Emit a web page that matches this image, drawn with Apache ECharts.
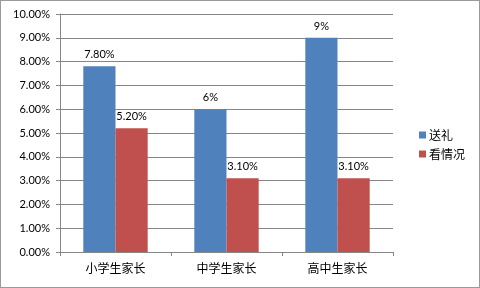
<!DOCTYPE html>
<html>
<head>
<meta charset="utf-8">
<script src="https://cdn.jsdelivr.net/npm/echarts@6/dist/echarts.min.js"></script>
<style>
  html, body { margin: 0; padding: 0; background: #fff; }
  #chart { width: 480px; height: 288px; box-sizing: border-box; border: 1px solid #9a9a9a; }
</style>
</head>
<body>
<div id="chart"></div>
<script>
// Parent groups along the x axis
const categories = ['小学生家长', '中学生家长', '高中生家长'];
// Shares in percent
const giftValues = [7.8, 6, 9];
const giftLabels = ['7.80%', '6%', '9%'];
const waitValues = [5.2, 3.1, 3.1];
const waitLabels = ['5.20%', '3.10%', '3.10%'];
const seriesNames = ['送礼', '看情况'];

const numFont = 'Lato, "Noto Sans CJK SC", sans-serif';
const cjkFont = '"Noto Sans CJK SC", sans-serif';

const chart = echarts.init(document.getElementById('chart'), null, { renderer: 'canvas' });

function withLabels(values, labels) {
  return values.map((v, i) => ({ value: v, labelText: labels[i] }));
}

chart.setOption({
  animation: false,
  grid: { left: 59, right: 86, top: 13, bottom: 35 },
  legend: {
    orient: 'vertical',
    left: 413,
    top: 123,
    itemWidth: 7,
    itemHeight: 7,
    itemGap: 7,
    icon: 'rect',
    textStyle: { fontFamily: cjkFont, fontSize: 12, color: '#000', padding: [0, 0, 0, -2] },
    data: seriesNames
  },
  xAxis: {
    type: 'category',
    data: categories,
    axisLine: { lineStyle: { color: '#868686' } },
    axisTick: { show: true, length: 4, lineStyle: { color: '#868686' } },
    axisLabel: { fontFamily: cjkFont, fontSize: 12, color: '#000', margin: 10 }
  },
  yAxis: {
    type: 'value',
    min: 0,
    max: 10,
    interval: 1,
    axisLine: { show: true, lineStyle: { color: '#868686' } },
    axisTick: { show: true, length: 4, lineStyle: { color: '#868686' } },
    splitLine: { lineStyle: { color: '#868686' } },
    axisLabel: {
      fontFamily: numFont, fontSize: 11, color: '#000', margin: 10,
      formatter: v => v.toFixed(2) + '%'
    }
  },
  series: [
    {
      name: seriesNames[0],
      type: 'bar',
      data: withLabels(giftValues, giftLabels),
      itemStyle: { color: '#4F81BD' },
      barGap: '0%',
      barCategoryGap: '42%',
      label: {
        show: true, position: 'top', distance: 6,
        fontFamily: numFont, fontSize: 11, color: '#000',
        formatter: p => p.data.labelText
      }
    },
    {
      name: seriesNames[1],
      type: 'bar',
      data: withLabels(waitValues, waitLabels),
      itemStyle: { color: '#C0504D' },
      barGap: '0%',
      barCategoryGap: '42%',
      label: {
        show: true, position: 'top', distance: 6,
        fontFamily: numFont, fontSize: 11, color: '#000',
        formatter: p => p.data.labelText
      }
    }
  ]
});
</script>
</body>
</html>
